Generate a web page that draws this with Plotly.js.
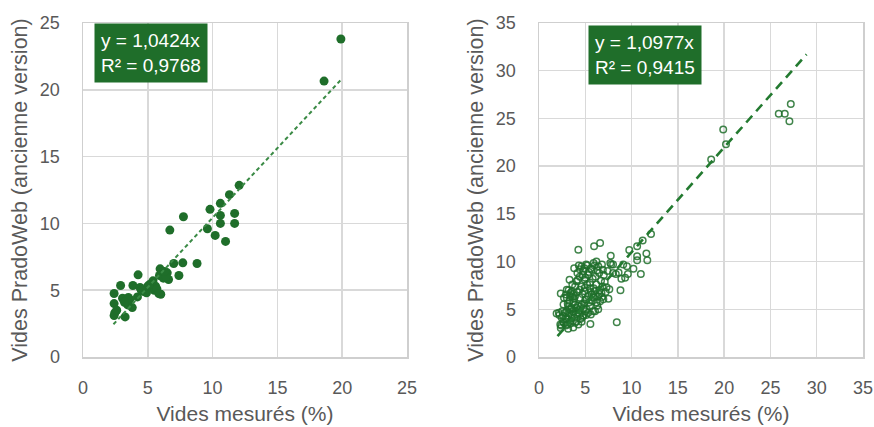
<!DOCTYPE html>
<html>
<head>
<meta charset="utf-8">
<script src="https://cdn.plot.ly/plotly-3.0.1.min.js"></script>
<style>html,body{margin:0;padding:0;background:#fff;}#chart{width:874px;height:427px;}</style>
</head>
<body>
<div id="chart"></div>
<script>
// Left chart: measured voids vs PradoWeb (old version), filled markers
const leftX = [2.4,2.9,2.4,2.45,2.4,2.6,3.25,3.05,3.5,3.45,3.8,3.85,3.6,4.25,4.2,4.4,4.7,4.9,5.0,5.3,5.4,5.6,5.5,5.7,6.0,5.85,5.95,5.9,6.2,6.5,6.6,6.4,7.0,7.4,7.7,8.8,6.7,7.75,9.6,9.8,10.2,10.6,10.6,10.6,11.0,11.3,11.7,11.7,12.05,18.6,19.9,4.5,3.2,5.1,6.3];
const leftY = [4.75,5.35,4.0,3.3,3.1,3.5,3.0,4.4,4.45,3.9,3.7,5.35,4.3,6.15,4.5,5.2,4.9,4.8,5.3,5.5,5.7,5.3,5.0,5.1,4.7,4.75,6.6,6.1,5.9,6.3,5.8,6.0,7.0,6.1,7.05,7.0,9.5,10.5,9.6,11.05,9.1,10.6,10.0,11.5,8.65,12.15,10.75,10.0,12.85,20.65,23.8,5.0,4.1,5.4,6.4];
const leftTrendX = [2.35, 19.95];
const leftSlope = 1.0424;
const leftLabel = ["y = 1,0424x", "R² = 0,9768"];

// Right chart: open markers
const rightX = [27.2,25.9,26.55,27.05,19.9,20.2,18.6,12.1,11.2,10.6,9.75,11.6,11.7,10.6,10.6,10.2,11.0,8.8,8.4,6.6,5.95,4.25,7.75,5.55,
9.1,9.5,8.0,7.7,8.3,8.6,8.9,9.3,9.6,8.0,7.3,7.6,7.1,7.5,
3.8,4.6,5.1,5.9,6.2,6.8,4.3,4.9,5.6,6.4,4.15,4.8,5.3,5.7,6.5,6.9,4.4,5.0,6.1,3.3,4.05,4.95,5.5,6.2,6.85,4.95,3.0,3.55,4.4,3.9,5.9,6.5,
2.35,2.9,3.4,3.9,4.4,5.15,5.7,5.95,6.4,6.75,6.95,6.6,6.2,3.0,3.3,3.6,4.7,5.3,2.65,3.15,3.7,4.05,4.6,5.15,5.5,5.85,3.3,3.9,4.3,4.9,5.7,6.3,
2.8,3.55,4.25,4.8,5.3,6.05,3.0,3.8,4.5,5.0,1.9,2.15,2.45,3.0,3.55,4.05,2.3,2.7,3.15,4.25,3.7,2.35,2.9,3.4,4.7,5.6,6.4,2.6,3.2,3.5,4.0,4.45,
5.0,5.6,6.0,6.7,7.0,7.4,7.8,4.2,3.6,3.2,2.7,3.4,3.8,4.1,4.6,5.2,5.4,5.8,6.3,6.0,4.4,4.7,5.2,3.1,3.5,4.2,4.8,5.4,5.9,6.5,3.3,3.7,4.4,5.1,
2.5,2.2,2.9,3.4,3.9,4.6,2.6,3.1,2.4,3.7,4.9,5.5,6.8,7.2];
const rightY = [26.5,25.5,25.5,24.7,23.85,22.3,20.7,12.9,12.2,11.6,11.2,10.85,10.15,10.55,10.15,9.25,8.7,7.0,3.65,11.95,11.6,11.25,10.6,3.45,
9.7,9.5,9.7,9.85,8.7,8.85,8.2,8.3,8.7,8.8,7.3,7.1,7.85,6.1,
9.3,9.5,9.7,9.85,10.0,9.7,9.6,9.3,9.3,9.5,8.8,9.0,8.6,9.15,8.8,9.15,8.4,8.3,8.4,8.1,7.95,8.1,7.8,7.6,7.4,7.25,7.05,6.9,7.05,7.4,7.2,7.0,
6.65,6.55,6.7,6.4,6.2,6.05,6.55,6.2,6.35,6.7,6.05,5.85,5.7,6.2,5.9,6.3,6.6,6.4,5.5,5.35,5.7,5.15,5.5,5.0,5.35,4.8,5.0,5.5,4.9,5.6,5.9,5.4,
4.65,4.45,4.65,4.35,4.6,4.8,4.8,4.1,4.0,4.8,4.55,4.65,4.1,3.95,4.1,3.75,3.4,3.6,2.95,3.4,3.1,3.05,3.3,3.5,4.2,4.45,5.0,4.3,4.3,5.2,4.5,5.3,
6.0,6.8,6.9,8.0,8.6,9.0,9.7,8.1,7.6,7.0,6.2,6.4,6.1,6.8,7.4,7.6,8.9,8.2,9.1,9.6,9.2,8.6,9.6,5.6,5.0,5.4,5.1,5.7,6.4,6.6,4.6,4.8,4.5,4.4,
4.8,4.4,4.0,3.8,3.6,3.7,3.7,3.4,3.3,6.6,6.9,7.2,6.3,6.8];
const rightTrendX = [2.0, 28.9];
const rightSlope = 1.0977;
const rightLabel = ["y = 1,0977x", "R² = 0,9415"];

const green = '#1f6e2a';
const font = 'Liberation Sans, Arial, sans-serif';
const gray = '#595959';

const traces = [
  {x: leftX, y: leftY, type: 'scatter', mode: 'markers', xaxis: 'x', yaxis: 'y',
   marker: {color: green, size: 9}, hoverinfo: 'x+y'},
  {x: leftTrendX, y: leftTrendX.map(v => v * leftSlope), type: 'scatter', mode: 'lines', xaxis: 'x', yaxis: 'y',
   line: {color: '#3a8a45', width: 2, dash: '4px,3px'}},
  {x: rightX, y: rightY, type: 'scatter', mode: 'markers', xaxis: 'x2', yaxis: 'y2',
   marker: {symbol: 'circle-open', color: 'rgba(31,110,42,0.85)', size: 6.5, line: {width: 1.5}}},
  {x: rightTrendX, y: rightTrendX.map(v => v * rightSlope), type: 'scatter', mode: 'lines', xaxis: 'x2', yaxis: 'y2',
   line: {color: '#237a30', width: 2.6, dash: '9px,6px'}}
];

function xax(domain, max, anchor) {
  return {domain: domain, range: [0, max], dtick: 5, anchor: anchor,
    showgrid: true, gridcolor: '#d9d9d9', gridwidth: 1.5,
    showline: true, linecolor: '#cfcfcf', linewidth: 1.5, mirror: true, zeroline: false,
    ticks: '', ticklabelstandoff: 14,
    tickfont: {family: font, size: 18, color: gray},
    title: {text: 'Vides mesurés (%)', font: {family: font, size: 21, color: gray}, standoff: 9},
    fixedrange: true};
}
function yax(max, anchor) {
  return {domain: [0, 1], range: [0, max], dtick: 5, anchor: anchor,
    showgrid: true, gridcolor: '#d9d9d9', gridwidth: 1.5,
    showline: true, linecolor: '#cfcfcf', linewidth: 1.5, mirror: true, zeroline: false,
    ticks: 'outside', ticklen: 18, tickcolor: 'rgba(255,255,255,0)',
    tickfont: {family: font, size: 18, color: gray},
    title: {text: 'Vides PradoWeb (ancienne version)', font: {family: font, size: 21.5, color: gray}, standoff: 6},
    fixedrange: true};
}

const layout = {
  width: 874, height: 427,
  margin: {l: 0, r: 0, t: 23, b: 70},
  paper_bgcolor: '#ffffff', plot_bgcolor: '#ffffff',
  showlegend: false,
  xaxis: xax([83/874, 407/874], 25, 'y'),
  yaxis: yax(25, 'x'),
  xaxis2: xax([539/874, 863/874], 35, 'y2'),
  yaxis2: yax(35, 'x2'),
  annotations: [
    {xref: 'x domain', yref: 'y domain', x: 0.034, y: 1.0, xanchor: 'left', yanchor: 'top',
     text: leftLabel.join('<br>'), showarrow: false, align: 'left',
     font: {family: font, size: 19, color: '#ffffff'}, bgcolor: green, borderpad: 6},
    {xref: 'x2 domain', yref: 'y2 domain', x: 0.151, y: 0.995, xanchor: 'left', yanchor: 'top',
     text: rightLabel.join('<br>'), showarrow: false, align: 'left',
     font: {family: font, size: 19, color: '#ffffff'}, bgcolor: green, borderpad: 6}
  ]
};

Plotly.newPlot('chart', traces, layout, {displayModeBar: false, staticPlot: true});
</script>
</body>
</html>
